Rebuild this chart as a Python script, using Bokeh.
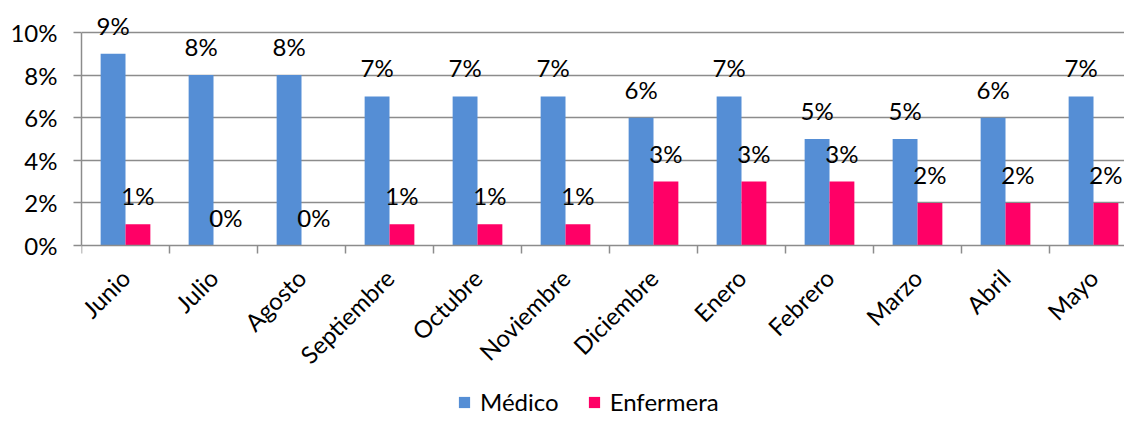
from bokeh.plotting import figure
from bokeh.models import (ColumnDataSource, FixedTicker, Range1d, LabelSet, Legend,
                          LegendItem, PrintfTickFormatter)
from bokeh.core.properties import value
from bokeh.embed import file_html
from bokeh.resources import INLINE
import math

months = ["Junio", "Julio", "Agosto", "Septiembre", "Octubre", "Noviembre",
          "Diciembre", "Enero", "Febrero", "Marzo", "Abril", "Mayo"]
medico = [9, 8, 8, 7, 7, 7, 6, 7, 5, 5, 6, 7]
enfermera = [1, 0, 0, 1, 1, 1, 3, 3, 3, 2, 2, 2]
y_ticks = [0, 2, 4, 6, 8, 10]

FONT = "Lato"
FS = "24px"
BLUE = "#558ED5"
PINK = "#FF0066"
GRAY = "#8C8C8C"

n = len(months)
bw = 0.2825
centers = [i + 0.5 for i in range(n)]

src_m = ColumnDataSource(dict(x=[c - bw / 2 for c in centers], y=medico,
                              t=[f"{v}%" for v in medico]))
src_e = ColumnDataSource(dict(x=[c + bw / 2 for c in centers], y=enfermera,
                              t=[f"{v}%" for v in enfermera]))

W, H = 1124, 418
LEFT = 81
CAT_PX = 88.0
p = figure(width=W, height=H, output_backend="svg", toolbar_location=None,
           x_range=Range1d(0, (W - LEFT) / CAT_PX),
           y_range=Range1d(-(H - 245) / 21.3, 10 + 32 / 21.3),
           min_border_left=LEFT, min_border_right=0, min_border_top=0,
           min_border_bottom=0)
p.outline_line_color = None
p.background_fill_color = "white"

r1 = p.vbar(x="x", top="y", width=bw, source=src_m, color=BLUE, line_color=None)
r2 = p.vbar(x="x", top="y", width=bw, source=src_e, color=PINK, line_color=None)

for s in (src_m, src_e):
    p.add_layout(LabelSet(x="x", y="y", text="t", source=s, text_align="center",
                          text_baseline="alphabetic", y_offset=19,
                          text_font=value(FONT), text_font_size=value(FS),
                          text_color="black"))

# x axis (drawn at y = 0 inside the frame)
p.xaxis.fixed_location = 0
p.xaxis.ticker = FixedTicker(ticks=centers, minor_ticks=list(range(n + 1)))
p.xaxis.major_label_overrides = {c: m for c, m in zip(centers, months)}
p.xaxis.major_label_orientation = math.pi / 4
p.xaxis.major_tick_line_color = None
p.xaxis.major_tick_out = 0
p.xaxis.major_tick_in = 0
p.xaxis.minor_tick_line_color = GRAY
p.xaxis.minor_tick_line_width = 1.5
p.xaxis.minor_tick_out = 8
p.xaxis.minor_tick_in = 0
p.xaxis.axis_line_color = GRAY
p.xaxis.axis_line_width = 1.5
p.xaxis.major_label_standoff = 20
p.xaxis.major_label_text_font = FONT
p.xaxis.major_label_text_font_size = FS
p.xaxis.major_label_text_color = "black"
p.xgrid.grid_line_color = None

# y axis
p.yaxis.bounds = (0, 10)
p.yaxis.ticker = FixedTicker(ticks=y_ticks)
p.yaxis.formatter = PrintfTickFormatter(format="%d%%")
p.yaxis.major_tick_out = 8
p.yaxis.major_tick_in = 0
p.yaxis.major_tick_line_color = GRAY
p.yaxis.major_tick_line_width = 1.5
p.yaxis.minor_tick_line_color = None
p.yaxis.axis_line_color = GRAY
p.yaxis.axis_line_width = 1.5
p.yaxis.major_label_standoff = 16
p.yaxis.major_label_text_font = FONT
p.yaxis.major_label_text_font_size = FS
p.yaxis.major_label_text_color = "black"
p.ygrid.ticker = FixedTicker(ticks=y_ticks[1:])
p.ygrid.grid_line_color = GRAY
p.ygrid.grid_line_width = 1.5

legend = Legend(items=[LegendItem(label="Médico", renderers=[r1]),
                       LegendItem(label="Enfermera", renderers=[r2])],
                location=(376, 2), orientation="horizontal",
                glyph_width=14, glyph_height=14, label_standoff=9, spacing=28,
                padding=0, margin=0, border_line_color=None,
                background_fill_alpha=0, label_text_font=FONT,
                label_text_font_size=FS, label_text_color="black",
                label_height=20)
p.add_layout(legend, "center")

open("out.html", "w").write(file_html(p, INLINE))
